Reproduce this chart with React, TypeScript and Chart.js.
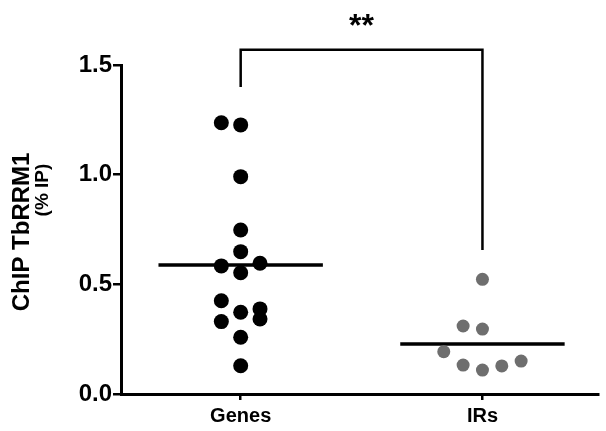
import React, { useEffect, useRef } from "react";
import { Chart, registerables } from "chart.js";

Chart.register(...registerables);

const categories = ["Genes", "IRs"];
const genesValues = [1.237, 1.227, 0.991, 0.748, 0.649, 0.584, 0.596, 0.553, 0.425, 0.373, 0.388, 0.33, 0.342, 0.259, 0.129];
const genesJitter = [-0.08, 0, 0, 0, 0, -0.08, 0.08, 0, -0.08, 0, 0.08, -0.08, 0.08, 0, 0];
const irsValues = [0.523, 0.31, 0.296, 0.193, 0.132, 0.109, 0.128, 0.15];
const irsJitter = [0, -0.08, 0, -0.16, -0.08, 0, 0.08, 0.16];
const medians = [0.588, 0.228];
const yTicks = [0, 0.5, 1.0, 1.5];
const bracketLevels = { top: 1.569, left: 1.4, right: 0.657 };
const significance = "**";
const yTitle = "ChIP TbRRM1";
const yTitleUnit = "(% IP)";

const FONT = "Arial, 'Liberation Sans', sans-serif";

export default function App() {
  const ref = useRef<HTMLCanvasElement | null>(null);

  useEffect(() => {
    if (!ref.current) return;
    const halfW = 0.34;
    const annot = {
      id: "annot",
      afterDraw(chart: any) {
        const ctx = chart.ctx;
        const xs = chart.scales.x;
        const ys = chart.scales.y;
        ctx.save();
        ctx.fillStyle = "#000";
        ctx.font = `bold 32px ${FONT}`;
        ctx.textAlign = "center";
        ctx.textBaseline = "alphabetic";
        ctx.fillText(significance, xs.getPixelForValue(0.5), ys.getPixelForValue(bracketLevels.top) - 14);
        ctx.save();
        ctx.translate(22, ys.getPixelForValue(0.739));
        ctx.rotate(-Math.PI / 2);
        ctx.font = `bold 24px ${FONT}`;
        ctx.textBaseline = "middle";
        ctx.fillText(yTitle, 0, 0);
        ctx.restore();
        ctx.save();
        ctx.translate(43, ys.getPixelForValue(0.93));
        ctx.rotate(-Math.PI / 2);
        ctx.font = `bold 19px ${FONT}`;
        ctx.textBaseline = "middle";
        ctx.fillText(yTitleUnit, 0, 0);
        ctx.restore();
        ctx.restore();
      },
    };

    const chart = new Chart(ref.current, {
      type: "scatter",
      data: {
        datasets: [
          {
            data: genesValues.map((v, i) => ({ x: 0 + genesJitter[i], y: v })),
            backgroundColor: "#000",
            borderWidth: 0,
            pointRadius: 7.5,
          },
          {
            data: irsValues.map((v, i) => ({ x: 1 + irsJitter[i], y: v })),
            backgroundColor: "#6e6e6e",
            borderWidth: 0,
            pointRadius: 6.5,
          },
          ...medians.map((m, i) => ({
            data: [
              { x: i - halfW, y: m },
              { x: i + halfW, y: m },
            ],
            showLine: true,
            borderColor: "#000",
            borderWidth: 3.5,
            pointRadius: 0,
          })),
          {
            data: [
              { x: 0, y: bracketLevels.left },
              { x: 0, y: bracketLevels.top },
              { x: 1, y: bracketLevels.top },
              { x: 1, y: bracketLevels.right },
            ],
            showLine: true,
            borderColor: "#000",
            borderWidth: 2.5,
            pointRadius: 0,
            clip: false,
          } as any,
        ],
      },
      options: {
        animation: false,
        responsive: false,
        events: [],
        layout: { padding: { top: 65, right: 2, left: 0, bottom: 0 } },
        plugins: { legend: { display: false }, tooltip: { enabled: false } },
        scales: {
          x: {
            type: "linear",
            min: -0.495,
            max: 1.48,
            afterBuildTicks: (s: any) => {
              s.ticks = categories.map((_, i) => ({ value: i }));
            },
            afterFit: (s: any) => {
              s.height = 37;
            },
            border: { display: true, color: "#000", width: 3 },
            grid: { display: true, drawOnChartArea: false, drawTicks: true, tickLength: 6, color: "#000", lineWidth: 2.5 },
            ticks: {
              color: "#000",
              font: { family: FONT, size: 20, weight: "bold" },
              padding: 4,
              maxRotation: 0,
              callback: (v: any) => categories[Math.round(Number(v))] ?? "",
            },
          },
          y: {
            type: "linear",
            min: 0,
            max: 1.5,
            afterBuildTicks: (s: any) => {
              s.ticks = yTicks.map((v) => ({ value: v }));
            },
            afterFit: (s: any) => {
              s.width = 121;
            },
            border: { display: true, color: "#000", width: 3 },
            grid: { display: true, drawOnChartArea: false, drawTicks: true, tickLength: 8, color: "#000", lineWidth: 2.5 },
            ticks: {
              color: "#000",
              font: { family: FONT, size: 24, weight: "bold" },
              padding: 1,
              callback: (v: any) => Number(v).toFixed(1),
            },
          },
        },
      },
      plugins: [annot],
    });
    return () => chart.destroy();
  }, []);

  return (
    <div style={{ position: "fixed", left: 0, top: 0, width: 606, height: 431, background: "#fff" }}>
      <canvas ref={ref} width={606} height={431} />
    </div>
  );
}
